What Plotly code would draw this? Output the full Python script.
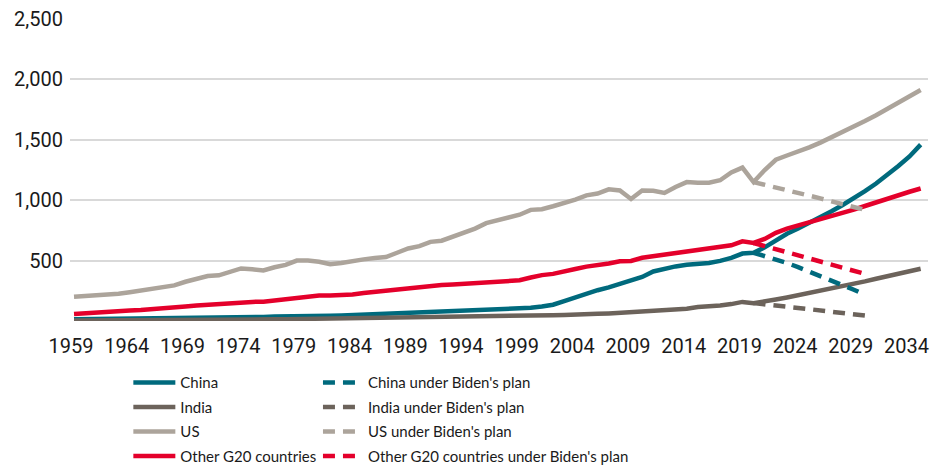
import plotly.graph_objects as go

# ---- data ----
years = list(range(1959, 2036))
plan_years = list(range(2020, 2031))

china = [15, 16, 14, 13, 14, 15, 17, 18, 17, 18, 20, 23, 25, 27, 28, 29, 33, 34, 37, 40,
         41, 41, 40, 43, 45, 49, 53, 56, 60, 64, 65, 67, 71, 75, 80, 86, 94, 100, 102, 104,
         106, 109, 120, 135, 165, 195, 228, 255, 278, 305, 330, 365, 410, 435, 452, 465, 472, 480, 498, 522,
         558, 565, 610, 670, 722, 765, 810, 858, 908, 960, 1015, 1075, 1138, 1208, 1283, 1362, 1460]

india = [5, 5, 6, 6, 7, 7, 8, 8, 8, 9, 9, 10, 10, 11, 11, 12, 13, 14, 14, 15,
         16, 17, 18, 19, 20, 21, 23, 24, 25, 27, 29, 30, 32, 33, 34, 36, 38, 40, 41, 42,
         44, 46, 47, 48, 50, 50, 56, 59, 63, 68, 74, 78, 82, 88, 94, 102, 115, 120, 128, 140,
         158, 148, 160, 178, 195, 213, 230, 248, 267, 287, 307, 328, 350, 372, 392, 412, 432]

us = [200, 205, 207, 215, 225, 238, 250, 262, 278, 295, 325, 350, 372, 378, 405, 435, 428, 418, 445, 465,
      500, 500, 490, 470, 480, 498, 510, 522, 530, 565, 600, 620, 655, 665, 700, 735, 765, 810, 835, 855,
      880, 920, 925, 950, 975, 1005, 1040, 1055, 1090, 1080, 1010, 1080, 1078, 1060, 1110, 1150, 1145, 1145, 1165, 1230,
      1270, 1150, 1250, 1335, 1370, 1400, 1437, 1477, 1519, 1563, 1608, 1655, 1703, 1753, 1804, 1857, 1912]

other_g20 = [58, 62, 67, 73, 80, 87, 92, 97, 104, 112, 120, 128, 135, 142, 150, 157, 158, 160, 172, 183,
             197, 208, 212, 212, 214, 220, 232, 242, 250, 262, 270, 280, 290, 298, 302, 308, 312, 318, 328, 332,
             337, 360, 380, 390, 406, 430, 450, 460, 476, 495, 497, 523, 535, 553, 558, 572, 585, 600, 615, 627,
             660, 646, 680, 730, 765, 790, 818, 845, 870, 897, 922, 952, 983, 1013, 1042, 1070, 1097]

china_plan = [565, 538, 509, 480, 446, 410, 373, 336, 298, 259, 218]
india_plan = [148, 140, 130, 119, 108, 98, 87, 77, 66, 56, 45]
us_plan = [1150, 1129, 1106, 1083, 1060, 1040, 1015, 990, 968, 945, 920]
other_plan = [646, 620, 595, 569, 544, 518, 492, 467, 441, 416, 390]

names = ["China", "India", "US", "Other G20 countries"]
plan_names = ["China under Biden's plan", "India under Biden's plan",
              "US under Biden's plan", "Other G20 countries under Biden's plan"]
colors = ["#006a7d", "#6c635b", "#aca49b", "#e4002b"]

x_tick_years = [1959, 1964, 1969, 1974, 1979, 1984, 1989, 1994, 1999, 2004, 2009, 2014, 2019, 2024, 2029, 2034]
x_tick_labels = [str(y) for y in x_tick_years]
y_tick_vals = [0, 500, 1000, 1500, 2000, 2500]
y_tick_labels = ["", "500", "1,000", "1,500", "2,000", "2,500"]

# ---- figure ----
fig = go.Figure()
for name, vals, col in zip(names, [china, india, us, other_g20], colors):
    fig.add_trace(go.Scatter(x=years, y=vals, mode="lines", name=name, legendgroup=name,
                             line=dict(color=col, width=4.5), legend="legend"))
for name, vals, col in zip(plan_names, [china_plan, india_plan, us_plan, other_plan], colors):
    fig.add_trace(go.Scatter(x=plan_years, y=vals, mode="lines", name=name, legendgroup=name,
                             line=dict(color=col, width=4.5, dash="12px,8px"), legend="legend2"))

axis_font = dict(family="Roboto, Liberation Sans, sans-serif", size=20, color="#1a1a1a")
legend_font = dict(family="Lato, DejaVu Sans Condensed, sans-serif", size=15, color="#1a1a1a")

fig.update_layout(
    width=932, height=470,
    margin=dict(l=70, r=4, t=19, b=149, autoexpand=False),
    plot_bgcolor="white", paper_bgcolor="white",
    showlegend=True,
    xaxis=dict(range=[1958.64, 2035.66], tickmode="array", tickvals=x_tick_years,
               ticktext=x_tick_labels, showgrid=False, zeroline=False, showline=False,
               ticks="", tickfont=axis_font, ticklabelshift=-3, ticklabelstandoff=11,
               automargin=False),
    yaxis=dict(range=[0, 2500], tickmode="array", tickvals=y_tick_vals, ticktext=y_tick_labels,
               showgrid=True, gridcolor="#d9d9d9", gridwidth=1.5, zeroline=False, showline=False,
               ticks="", tickfont=axis_font, ticklabelstandoff=6, automargin=False),
    legend=dict(x=0.068, y=-0.150, xanchor="left", yanchor="top", orientation="v",
                font=legend_font, itemwidth=42, tracegroupgap=2,
                bgcolor="rgba(0,0,0,0)", borderwidth=0),
    legend2=dict(x=0.289, y=-0.150, xanchor="left", yanchor="top", orientation="v",
                 font=legend_font, itemwidth=40, tracegroupgap=2,
                 bgcolor="rgba(0,0,0,0)", borderwidth=0),
)

fig.write_html("out.html", config={"displayModeBar": False},
               post_script="document.body.style.margin='0px';")
